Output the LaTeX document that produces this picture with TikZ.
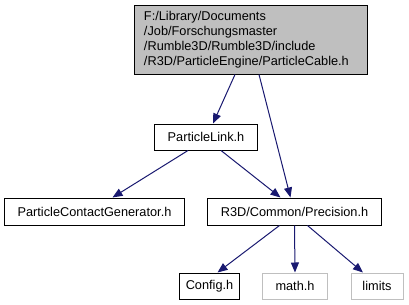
\documentclass[tikz,border=0pt]{standalone}
\usepackage{fontspec}
\setmainfont{Liberation Sans}
\usetikzlibrary{arrows.meta}
\begin{document}
\begin{tikzpicture}[x=1bp,y=-1bp,
  font=\fontsize{12.8}{15}\selectfont,
  filebox/.style={draw=black, line width=1bp, fill=white, inner sep=0pt, text=black},
  extbox/.style={draw=black!25, line width=1bp, fill=white, inner sep=0pt, text=black},
  dep/.style={draw=midnightblue, line width=1bp, -{Triangle[length=10bp,width=8bp]}}]
\definecolor{midnightblue}{HTML}{191970}
\useasboundingbox (0,0) rectangle (409,305);
% the documented header
\node[filebox, fill=black!25, minimum width=232bp, minimum height=69bp, align=left, text width=214bp]
  (cable) at (251,39.5) {F:/Library/Documents\\/Job/Forschungsmaster\\/Rumble3D/Rumble3D/include\\/R3D/ParticleEngine/ParticleCable.h};
% included headers
\node[filebox, minimum width=102bp, minimum height=26bp] (link) at (206,137) {ParticleLink.h};
\node[filebox, minimum width=179bp, minimum height=27bp] (gen) at (94.5,211.5) {ParticleContactGenerator.h};
\node[filebox, minimum width=173bp, minimum height=27bp] (prec) at (294.5,211.5) {R3D/Common/Precision.h};
\node[filebox, minimum width=59bp, minimum height=26bp] (config) at (209.5,286) {Config.h};
\node[extbox, minimum width=64bp, minimum height=26bp] (math) at (295,286) {math.h};
\node[extbox, minimum width=52bp, minimum height=26bp] (limits) at (377,286) {limits};
% include dependencies
\draw[dep] ([xshift=-16bp]cable.south) -- ([xshift=7bp]link.north);
\draw[dep] ([xshift=8bp]cable.south) -- ([xshift=-4bp]prec.north);
\draw[dep] ([xshift=-18bp]link.south) -- ([xshift=18bp]gen.north);
\draw[dep] ([xshift=15bp]link.south) -- ([xshift=-14bp]prec.north);
\draw[dep] ([xshift=-15bp]prec.south) -- ([xshift=8bp]config.north);
\draw[dep] ([xshift=0bp]prec.south) -- (math.north);
\draw[dep] ([xshift=13bp]prec.south) -- ([xshift=-14bp]limits.north);
\end{tikzpicture}
\end{document}
